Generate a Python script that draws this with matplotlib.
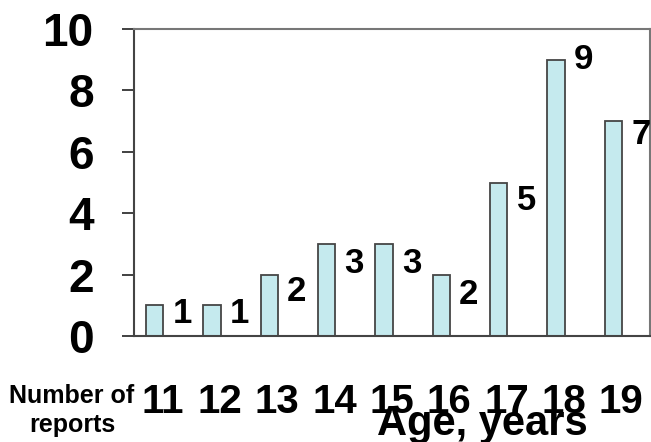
import matplotlib
matplotlib.use("Agg")
import matplotlib.pyplot as plt
from matplotlib import font_manager

ages = ["11", "12", "13", "14", "15", "16", "17", "18", "19"]
reports = [1, 1, 2, 3, 3, 2, 5, 9, 7]
# vertical nudge of each value label, in points
label_dy = [-6, -6, -12, -14, -14, -14, -13, 0, -10]

names = {f.name for f in font_manager.fontManager.ttflist}
family = ["Liberation Sans Narrow"] if "Liberation Sans Narrow" in names else ["Liberation Sans"]
plt.rcParams["font.family"] = family + ["DejaVu Sans"]
plt.rcParams["font.weight"] = "bold"

fig = plt.figure(figsize=(6.51, 4.42), dpi=100)
ax = fig.add_axes([0.2058, 0.2398, 0.7926, 0.6946])

x = list(range(len(ages)))
ax.bar(x, reports, width=0.3, color="#c5eaee", edgecolor="#454545", linewidth=1.3, zorder=2)

for xi, v, dy in zip(x, reports, label_dy):
    ax.annotate(str(v), (xi + 0.48, v), xytext=(0, dy), textcoords="offset points",
                ha="center", va="center", fontsize=25, fontweight="bold")

ax.set_xlim(-0.36, 8.64)
ax.set_ylim(0, 10)
ax.set_yticks([0, 2, 4, 6, 8, 10])
ax.tick_params(axis="y", labelsize=33, length=9, width=1.3, color="#333333", pad=20)
for t in ax.get_yticklabels():
    t.set_fontweight("bold")

# age labels sit well below the axis, overlapped by the axis title
ax.set_xticks([])
for xi, a in zip(x, ages):
    ax.text(xi + 0.14, -2.15, a, ha="center", va="center", fontsize=29, fontweight="bold",
            clip_on=False)

for side in ["left", "bottom"]:
    ax.spines[side].set_color("#444444")
    ax.spines[side].set_linewidth(1.5)
for side in ["top", "right"]:
    ax.spines[side].set_color("#777777")
    ax.spines[side].set_linewidth(1.5)

fig.text(72 / 651, 1 - 396 / 442, "Number of", ha="center", va="center", fontsize=18, fontweight="bold")
fig.text(72 / 651, 1 - 425 / 442, "reports", ha="center", va="center", fontsize=18, fontweight="bold")
fig.text(482 / 651, 1 - 424 / 442, "Age, years", ha="center", va="center", fontsize=30, fontweight="bold")

fig.savefig("out.png", dpi=100)
